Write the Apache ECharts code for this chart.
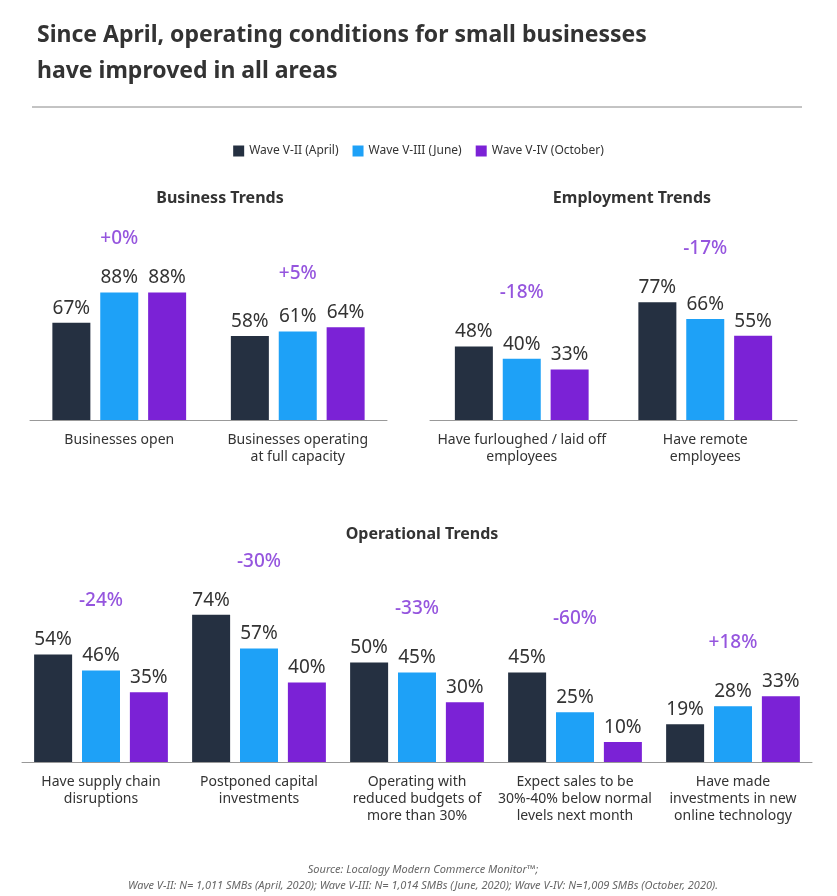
<!DOCTYPE html>
<html><head><meta charset="utf-8">
<script src="https://cdn.jsdelivr.net/npm/echarts@6/dist/echarts.min.js"></script>
<style>body{margin:0;background:#fff}#c{width:837px;height:896px}</style>
</head><body><div id="c"></div>
<script>
// data
const seriesNames = ['Wave V-II (April)', 'Wave V-III (June)', 'Wave V-IV (October)']
const bizCats = ['Businesses open', 'Businesses operating\nat full capacity']
const bizVals = [[67, 58], [88, 61], [88, 64]]
const bizChange = ['+0%', '+5%']
const empCats = ['Have furloughed / laid off\nemployees', 'Have remote\nemployees']
const empVals = [[48, 77], [40, 66], [33, 55]]
const empChange = ['-18%', '-17%']
const opCats = ['Have supply chain\ndisruptions', 'Postponed capital\ninvestments', 'Operating with\nreduced budgets of\nmore than 30%', 'Expect sales to be\n30%-40% below normal\nlevels next month', 'Have made\ninvestments in new\nonline technology']
const opVals = [[54, 74, 50, 45, 19], [46, 57, 45, 25, 28], [35, 40, 30, 10, 33]]
const opChange = ['-24%', '-30%', '-33%', '-60%', '+18%']

const colors = ['#253041', '#1ea1f7', '#7b22d6']
const font = '"Noto Sans", "Open Sans", sans-serif'
const chart = echarts.init(document.getElementById('c'))

const grids = [
  { left: 30, right: 450, top: 275, bottom: 476 },
  { left: 430, right: 40, top: 267, bottom: 476 },
  { left: 22, right: 25, top: 563, bottom: 134 }
]
const groups = [[bizCats, bizVals, bizChange], [empCats, empVals, empChange], [opCats, opVals, opChange]]

const xAxis = [], yAxis = [], series = []
groups.forEach(([cats, vals, change], g) => {
  xAxis.push({
    type: 'category', gridIndex: g, data: cats,
    axisLine: { lineStyle: { color: '#999' } }, axisTick: { show: false },
    axisLabel: { color: '#333', fontSize: 14, fontFamily: font, lineHeight: 17, margin: 12, interval: 0 }
  })
  yAxis.push({ type: 'value', gridIndex: g, min: 0, max: 100, show: false })
  vals.forEach((v, s) => {
    series.push({
      type: 'bar', name: seriesNames[s], xAxisIndex: g, yAxisIndex: g, data: v,
      barWidth: 38, barGap: '26%', itemStyle: { color: colors[s] },
      label: { show: true, position: 'top', formatter: '{c}%', color: '#333', fontSize: 19, fontFamily: font, distance: 5 }
    })
  })
  series.push({
    type: 'scatter', xAxisIndex: g, yAxisIndex: g, symbolSize: 0, silent: true,
    data: change.map((c, i) => ({ value: [i, Math.max(...vals.map(v => v[i]))], name: c })),
    label: { show: true, position: 'top', distance: 44, formatter: p => p.name, color: '#7b2bd6', fontSize: 19, fontWeight: 500, fontFamily: font }
  })
})

chart.setOption({
  animation: false,
  color: colors,
  title: [
    { text: 'Since April, operating conditions for small businesses\nhave improved in all areas', left: 32, top: 12,
      textStyle: { fontSize: 23, fontWeight: 'bold', color: '#333', fontFamily: font, lineHeight: 36 } },
    { text: 'Business Trends', left: 215, top: 185, textAlign: 'center', textStyle: { fontSize: 16, fontWeight: 'bold', color: '#333', fontFamily: font } },
    { text: 'Employment Trends', left: 627, top: 185, textAlign: 'center', textStyle: { fontSize: 16, fontWeight: 'bold', color: '#333', fontFamily: font } },
    { text: 'Operational Trends', left: 417, top: 521, textAlign: 'center', textStyle: { fontSize: 16, fontWeight: 'bold', color: '#333', fontFamily: font } },
    { text: 'Source: Localogy Modern Commerce Monitor™;\nWave V-II: N= 1,011 SMBs (April, 2020); Wave V-III: N= 1,014 SMBs (June, 2020); Wave V-IV: N=1,009 SMBs (October, 2020).',
      left: 418, top: 857, textAlign: 'center',
      textStyle: { fontSize: 11, fontStyle: 'italic', fontWeight: 'normal', color: '#666', fontFamily: font, lineHeight: 16, align: 'center' } }
  ],
  legend: {
    data: seriesNames, top: 140, left: 'center', icon: 'rect', itemWidth: 11, itemHeight: 11, itemGap: 14,
    textStyle: { fontSize: 12, color: '#333', fontFamily: font }
  },
  graphic: [{ type: 'line', shape: { x1: 32, y1: 107, x2: 802, y2: 107 }, style: { stroke: '#888', lineWidth: 1 } }],
  grid: grids,
  xAxis, yAxis, series
})
</script></body></html>
